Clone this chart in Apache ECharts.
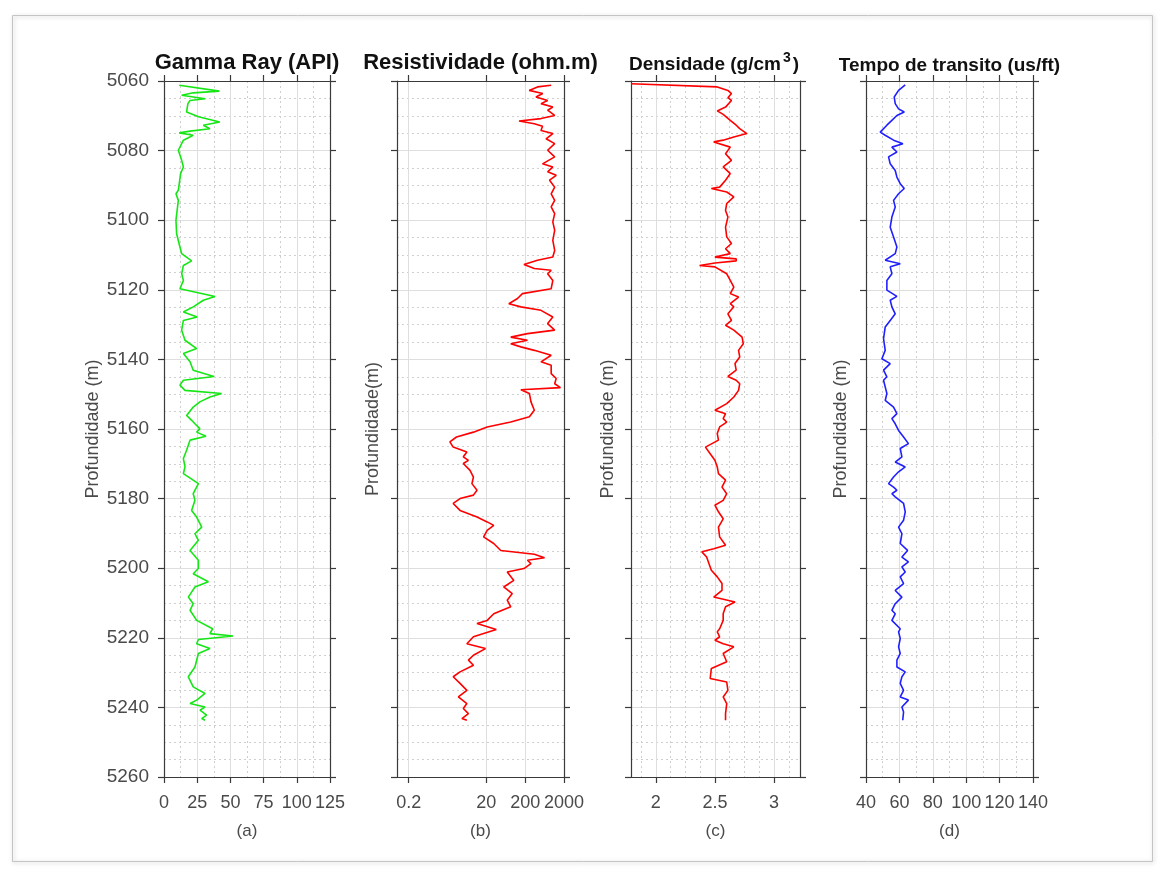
<!DOCTYPE html>
<html>
<head>
<meta charset="utf-8">
<script src="https://cdn.jsdelivr.net/npm/echarts@6/dist/echarts.min.js"></script>
<style>
  html, body { margin: 0; padding: 0; background: #ffffff; }
  #chart { width: 1161px; height: 875px; }
</style>
</head>
<body>
<div id="chart"></div>
<script>
// ---- Well-log samples: depth (m) and reading at that depth ----
const gammaDepth = [5061.2,5061.7,5062.9,5063.4,5064.1,5065.1,5065.6,5066.5,5068.9,5070.3,5071.8,5072.7,5073.7,5074.4,5074.9,5075.6,5077.0,5079.9,5082.8,5084.7,5086.6,5091.4,5092.4,5094.3,5100.0,5103.9,5107.7,5109.6,5111.7,5113.0,5115.4,5117.3,5119.7,5121.9,5123.0,5124.9,5126.4,5127.8,5128.8,5131.6,5134.5,5136.9,5138.3,5140.7,5143.1,5144.9,5146.0,5147.4,5148.9,5149.8,5150.8,5152.2,5153.7,5156.1,5157.5,5158.5,5159.9,5160.9,5162.1,5163.2,5166.1,5168.5,5170.9,5172.8,5175.7,5178.6,5180.5,5183.4,5185.3,5188.2,5190.1,5192.0,5194.9,5197.7,5200.1,5201.6,5203.9,5205.4,5208.3,5210.2,5212.1,5215.0,5217.4,5218.8,5219.5,5220.5,5221.7,5223.1,5224.5,5228.4,5231.2,5234.1,5236.0,5237.9,5238.9,5239.9,5240.8,5242.2,5243.2,5243.7];
const gammaApi = [11.5,13,41.7,22,13.3,31,19.6,18,17,26,42,29.6,34.6,19.6,11.5,22,14.6,10.8,13.3,14.6,12.5,10.8,9,10.8,9,9.5,12,13.3,20.8,14.6,13.3,14.6,12,38.4,29.6,22,14.6,25,14.6,13.3,15.8,24.6,14.6,19.6,22,37.6,14.6,12,15.8,43.4,34.6,27,22,17,20.8,23.3,27,24.6,31.6,19.6,17,14.6,15.8,14.6,25.9,22,23.3,20.8,24.6,28.4,23.3,25.9,19.6,25.9,25.9,22,33.4,23.3,18.3,22,19.6,24.6,36.6,34.6,52,25.9,24.6,34.6,25.9,23.3,18.3,22,30.9,24.6,19.6,30.9,27.1,32.1,28.4,30.9];

const resDepth = [5061.2,5061.7,5062.7,5063.6,5064.6,5065.6,5066.5,5067.5,5068.4,5069.9,5070.8,5071.5,5072.3,5073.0,5074.2,5075.1,5076.6,5078.0,5079.9,5081.8,5083.8,5084.7,5086.1,5087.1,5088.5,5090.5,5092.4,5094.3,5096.2,5098.1,5100.5,5102.9,5105.8,5108.7,5110.6,5111.5,5112.7,5113.9,5114.4,5115.4,5117.3,5119.7,5121.1,5122.5,5124.0,5124.9,5125.9,5127.8,5129.7,5131.6,5132.6,5133.6,5134.5,5135.5,5136.4,5137.4,5138.8,5140.7,5141.7,5144.1,5145.5,5147.0,5148.1,5148.7,5149.8,5152.2,5154.6,5156.5,5158.0,5159.4,5160.9,5162.3,5163.7,5165.2,5166.6,5168.0,5169.0,5169.9,5171.9,5173.8,5175.7,5177.6,5179.0,5180.0,5181.4,5183.4,5185.3,5186.7,5187.7,5189.1,5191.0,5192.9,5194.9,5196.0,5197.0,5197.7,5198.7,5200.1,5201.1,5203.5,5205.4,5207.3,5209.2,5211.1,5213.1,5215.0,5215.9,5217.6,5219.7,5221.7,5223.1,5225.0,5226.4,5227.9,5229.8,5231.2,5233.1,5235.1,5237.0,5238.9,5240.3,5241.8,5243.2,5243.7];
const resOhmM = [935,415,254,566,379,758,511,1030,758,1150,511,139,344,560,511,1030,690,1150,758,1150,560,1030,758,1260,850,1150,935,1150,935,1150,1030,1150,1030,1150,1030,415,186,344,935,758,1030,935,170,127,76,155,511,1030,758,1150,229,85,229,85,155,344,935,511,935,935,1260,1150,1620,155,257,282,344,257,85,21,9.3,3.4,2.3,2.8,6.3,5.1,6.9,5.1,7.6,9.3,8.5,11.5,9.3,4.2,2.8,4.2,11.5,21,31,21,17,31,47,344,630,229,282,186,69,102,56,93,69,85,31,21,11.5,36,9.3,6.3,19,9.3,6.9,9.3,4.2,2.8,4.2,6.3,3.8,6.3,5.1,6.9,4.7,6.3];

const densDepth = [5060.8,5061.7,5062.7,5063.6,5064.8,5065.6,5067.5,5068.6,5069.6,5071.3,5072.7,5073.7,5075.1,5076.1,5077.0,5077.5,5079.0,5080.9,5082.8,5084.7,5086.6,5088.5,5090.5,5090.9,5091.9,5093.3,5095.2,5097.2,5099.1,5102.0,5104.8,5106.7,5108.2,5109.6,5110.6,5111.1,5111.7,5112.3,5113.0,5113.4,5115.4,5117.3,5119.2,5121.1,5122.1,5124.0,5124.9,5126.9,5128.8,5130.2,5131.6,5133.6,5135.5,5137.4,5139.3,5141.2,5143.1,5144.9,5146.0,5147.0,5148.9,5150.8,5152.7,5154.6,5155.6,5157.0,5158.0,5159.4,5161.3,5163.2,5165.2,5167.1,5169.0,5170.9,5172.8,5174.7,5176.7,5178.6,5180.5,5181.9,5183.8,5185.8,5188.2,5191.0,5193.4,5194.4,5195.3,5196.8,5198.7,5200.6,5202.5,5204.4,5206.4,5208.3,5209.7,5211.1,5213.1,5215.0,5217.4,5218.3,5219.7,5220.7,5221.7,5222.6,5224.5,5226.9,5228.8,5231.7,5232.7,5235.1,5237.0,5238.9,5241.8,5243.7];
const densGcc = [1.79,2.52,2.61,2.64,2.61,2.64,2.59,2.52,2.57,2.63,2.68,2.71,2.77,2.66,2.57,2.49,2.63,2.59,2.64,2.57,2.63,2.59,2.54,2.47,2.6,2.66,2.6,2.59,2.61,2.59,2.6,2.64,2.59,2.63,2.5,2.68,2.68,2.5,2.37,2.5,2.6,2.63,2.66,2.63,2.7,2.63,2.66,2.61,2.64,2.59,2.66,2.73,2.74,2.7,2.71,2.67,2.68,2.61,2.68,2.71,2.7,2.66,2.6,2.5,2.59,2.57,2.6,2.54,2.52,2.53,2.42,2.46,2.5,2.52,2.53,2.59,2.56,2.6,2.57,2.5,2.53,2.57,2.53,2.54,2.59,2.49,2.39,2.43,2.45,2.47,2.52,2.56,2.56,2.49,2.67,2.59,2.57,2.57,2.54,2.52,2.54,2.5,2.57,2.66,2.57,2.6,2.47,2.46,2.6,2.61,2.57,2.6,2.59,2.59];

const dtDepth = [5061.1,5062.7,5064.6,5066.5,5068.0,5068.9,5069.9,5071.3,5072.7,5074.7,5075.6,5077.0,5078.0,5079.0,5080.4,5081.8,5083.8,5085.7,5087.6,5089.5,5090.9,5092.4,5094.3,5096.2,5099.1,5102.0,5104.8,5107.7,5109.6,5111.5,5112.5,5113.4,5115.4,5117.3,5120.1,5121.9,5123.0,5124.9,5126.9,5128.8,5130.7,5134.0,5137.4,5139.8,5141.2,5143.1,5145.0,5146.0,5147.9,5149.8,5151.8,5153.7,5155.6,5157.0,5158.5,5160.4,5162.3,5164.2,5165.6,5168.0,5169.5,5170.9,5172.3,5173.8,5175.7,5176.7,5177.6,5178.6,5179.5,5181.4,5183.8,5186.2,5188.2,5190.1,5192.9,5194.9,5196.8,5198.2,5199.6,5201.1,5202.5,5204.4,5206.4,5208.3,5210.2,5212.1,5213.1,5215.0,5217.4,5218.3,5220.2,5222.6,5224.5,5226.4,5228.4,5229.8,5231.2,5233.1,5235.1,5237.0,5237.9,5239.9,5241.3,5243.7];
const dtUsFt = [63.5,59.5,56.9,57.5,59.5,62.9,58.5,55.5,52.5,48.5,51.5,56.5,62.1,55.5,58.5,53.5,54.5,57.5,58.5,60.5,62.9,59.5,56.5,57.5,55.5,54.5,56.5,58.5,57.5,51.5,60.5,54.5,55.5,52.5,52.5,58.5,54.5,55.5,57.5,54.5,51.5,50.5,51.5,49.5,54.5,50.5,52.5,50.5,51.5,52.5,51.5,56.5,58.5,55.5,57.5,59.5,62.5,65.4,60.5,61.5,57.5,63.5,59.5,56.5,53.5,56.5,58.5,55.5,57.5,62.5,63.5,62.5,59.5,61.5,60.5,64.9,61.5,65.4,61.5,63.5,60.5,62.5,57.5,61.5,57.5,55.5,57.5,55.5,60.5,59.5,60.5,59.5,60.5,58.5,58.5,63.5,61.5,60.5,62.5,60.5,65.4,61.5,62.5,62];

// ---- Axis tick values ----
const depthTicks = [5060,5080,5100,5120,5140,5160,5180,5200,5220,5240,5260];
const gammaTicks = [0,25,50,75,100,125];
const resTicks = [0.2,20,200,2000];
const densTicks = [2,2.5,3];
const dtTicks = [40,60,80,100,120,140];

// ---- Drawing ----
const FONT = '"Liberation Sans", Arial, Helvetica, sans-serif';
const AXIS_COLOR = '#3a3a3a';
const LABEL_COLOR = '#4a4a4a';
const GRID_MAJOR = '#dedede';
const GRID_MINOR = '#cfcfcf';
const TOP = 81, HEIGHT = 696;

// evenly spaced values between (and beyond) the major ticks, inside (lo, hi)
function minorBetween(ticks, parts, lo, hi) {
  const out = [];
  const step = (ticks[1] - ticks[0]) / parts;
  for (let v = ticks[0] - step * 20; v <= ticks[ticks.length - 1] + step * 20 + 1e-9; v += step) {
    const r = Math.round(v * 1e6) / 1e6;
    if (r > lo && r < hi && ticks.indexOf(r) < 0) out.push(r);
  }
  return out;
}

const panels = [
  { left: 164, width: 166, type: 'value', min: 0, max: 125, ticks: gammaTicks, minorParts: 2,
    title: 'Gamma Ray (API)', titleSize: 22, titleY: 63, tag: '(a)', yName: 'Profundidade (m)', yGap: 62,
    depthLabels: true, color: '#16e616', rows: gammaDepth.map((d, k) => [gammaApi[k], d]) },
  { left: 397, width: 167, type: 'log', min: 0.1, max: 2000, ticks: resTicks, minorParts: 0,
    title: 'Resistividade (ohm.m)', titleSize: 22, titleY: 63, tag: '(b)', yName: 'Profundidade(m)', yGap: 15,
    depthLabels: false, color: '#ff0000', rows: resDepth.map((d, k) => [resOhmM[k], d]) },
  { left: 631, width: 169, type: 'value', min: 1.79, max: 3.22, ticks: densTicks, minorParts: 4,
    title: null, tag: '(c)', yName: 'Profundidade (m)', yGap: 14,
    depthLabels: false, color: '#ff0000', rows: densDepth.map((d, k) => [densGcc[k], d]) },
  { left: 866, width: 167, type: 'value', min: 40, max: 140, ticks: dtTicks, minorParts: 2,
    title: 'Tempo de transito (us/ft)', titleSize: 19, titleY: 66, tag: '(d)', yName: 'Profundidade (m)', yGap: 16,
    depthLabels: false, color: '#2020ff', rows: dtDepth.map((d, k) => [dtUsFt[k], d]) }
];

const fmt = v => String(Math.round(v * 1000) / 1000);
const depthMinor = minorBetween(depthTicks, 4, 5060, 5260);

const grid = [], xAxis = [], yAxis = [], series = [], graphic = [];

panels.forEach((p, i) => {
  grid.push({ left: p.left, top: TOP, width: p.width, height: HEIGHT, outerBoundsMode: 'none' });

  const xi = xAxis.length;
  // bottom axis with labels and major vertical grid
  xAxis.push({
    gridIndex: i, type: p.type, min: p.min, max: p.max, logBase: 10, position: 'bottom',
    axisLine: { show: true, onZero: false, lineStyle: { color: AXIS_COLOR, width: 1.2 } },
    axisTick: { show: true, inside: false, length: 6, customValues: p.ticks, lineStyle: { color: AXIS_COLOR, width: 1.2 } },
    axisLabel: { show: true, customValues: p.ticks, formatter: fmt, color: LABEL_COLOR, fontSize: 18, fontFamily: FONT, margin: 17 },
    splitLine: { show: true, lineStyle: { color: GRID_MAJOR, width: 1 } },
    minorTick: { show: false }, minorSplitLine: { show: false },
    name: p.tag, nameLocation: 'middle', nameGap: 46,
    nameTextStyle: { color: LABEL_COLOR, fontSize: 17, fontFamily: FONT }
  });
  // top edge of the box
  xAxis.push({
    gridIndex: i, type: p.type, min: p.min, max: p.max, logBase: 10, position: 'top',
    axisLine: { show: true, onZero: false, lineStyle: { color: AXIS_COLOR, width: 1.2 } },
    axisTick: { show: true, inside: false, length: 6, customValues: p.ticks, lineStyle: { color: AXIS_COLOR, width: 1.2 } },
    axisLabel: { show: false }, splitLine: { show: false }
  });
  // dotted minor vertical grid
  if (p.minorParts) {
    xAxis.push({
      gridIndex: i, type: p.type, min: p.min, max: p.max, position: 'top',
      axisLine: { show: false }, axisLabel: { show: false },
      axisTick: { show: false, customValues: minorBetween(p.ticks, p.minorParts, p.min, p.max) },
      splitLine: { show: true, lineStyle: { color: GRID_MINOR, width: 1, type: [2, 3] } }
    });
  }

  const yi = yAxis.length;
  yAxis.push({
    gridIndex: i, type: 'value', inverse: true, min: 5060, max: 5260, position: 'left',
    axisLine: { show: true, onZero: false, lineStyle: { color: AXIS_COLOR, width: 1.2 } },
    axisTick: { show: true, inside: false, length: 6, customValues: depthTicks, lineStyle: { color: AXIS_COLOR, width: 1.2 } },
    axisLabel: { show: p.depthLabels, customValues: depthTicks, formatter: fmt, color: LABEL_COLOR, fontSize: 19, fontFamily: FONT, margin: 15 },
    splitLine: { show: true, lineStyle: { color: GRID_MAJOR, width: 1 } },
    name: p.yName, nameLocation: 'middle', nameGap: p.yGap, nameRotate: 90,
    nameTextStyle: { color: LABEL_COLOR, fontSize: 18, fontFamily: FONT }
  });
  yAxis.push({
    gridIndex: i, type: 'value', inverse: true, min: 5060, max: 5260, position: 'right',
    axisLine: { show: true, onZero: false, lineStyle: { color: AXIS_COLOR, width: 1.2 } },
    axisTick: { show: true, inside: false, length: 6, customValues: depthTicks, lineStyle: { color: AXIS_COLOR, width: 1.2 } },
    axisLabel: { show: false }, splitLine: { show: false }
  });
  yAxis.push({
    gridIndex: i, type: 'value', inverse: true, min: 5060, max: 5260, position: 'left',
    axisLine: { show: false }, axisLabel: { show: false },
    axisTick: { show: false, customValues: depthMinor },
    splitLine: { show: true, lineStyle: { color: GRID_MINOR, width: 1, type: [2, 3] } }
  });

  series.push({
    type: 'line', xAxisIndex: xi, yAxisIndex: yi, data: p.rows,
    showSymbol: false, symbol: 'none', clip: true, silent: true, z: 3,
    lineStyle: { color: p.color, width: 1.6 }
  });

  const cx = p.left + p.width / 2;
  if (p.title) {
    graphic.push({
      type: 'text', x: cx, y: p.titleY, z: 10,
      style: { text: p.title, align: 'center', verticalAlign: 'middle',
               font: 'bold ' + p.titleSize + 'px ' + FONT, fill: '#111111' }
    });
  }
});

// density title with superscript exponent
graphic.push({
  type: 'text', x: 714, y: 65, z: 10,
  style: {
    text: 'Densidade (g/cm{sup|3})', align: 'center', verticalAlign: 'middle',
    font: 'bold 19px ' + FONT, fill: '#111111',
    rich: { sup: { fontSize: 14, fontWeight: 'bold', fontFamily: FONT, fill: '#111111', verticalAlign: 'bottom', padding: [0, 2, 13, 2] } }
  }
});

// figure frame
graphic.push({
  type: 'rect', z: -1, silent: true,
  shape: { x: 12.5, y: 15.5, width: 1140, height: 846 },
  style: { fill: 'none', stroke: '#c4c4c4', lineWidth: 1, shadowBlur: 4, shadowColor: 'rgba(0,0,0,0.25)', shadowOffsetX: 1, shadowOffsetY: 1 }
});

const chart = echarts.init(document.getElementById('chart'), null, { renderer: 'canvas' });
chart.setOption({
  backgroundColor: '#ffffff',
  animation: false,
  grid, xAxis, yAxis, series, graphic
});
</script>
</body>
</html>
